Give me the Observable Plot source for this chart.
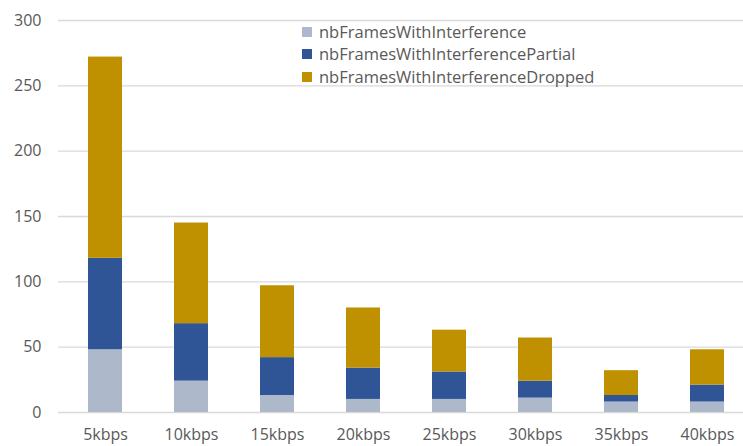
<!DOCTYPE html>
<html>
<head>
<meta charset="utf-8">
<script src="https://cdn.jsdelivr.net/npm/d3@7"></script>
<script src="https://cdn.jsdelivr.net/npm/@observablehq/plot@0.6"></script>
<style>
  html, body { margin: 0; padding: 0; background: #fff; overflow: hidden; }
  #wrap { position: relative; width: 743px; height: 446px; font-family: "Open Sans", "Noto Sans", sans-serif; }
  #legend { position: absolute; left: 302px; top: 20.5px; font-size: 16.5px; color: #595959; line-height: 22.5px; }
  #legend .row { display: flex; align-items: center; white-space: nowrap; }
  #legend .sw { width: 10px; height: 10px; margin-right: 7px; display: inline-block; }
</style>
</head>
<body>
<div id="wrap"></div>
<script>
const categories = ["5kbps", "10kbps", "15kbps", "20kbps", "25kbps", "30kbps", "35kbps", "40kbps"];
const seriesNames = ["nbFramesWithInterference", "nbFramesWithInterferencePartial", "nbFramesWithInterferenceDropped"];
const seriesColors = ["#ADB9CA", "#2F5597", "#BF9000"];
const nbFramesWithInterference = [48, 24, 13, 10, 10, 11, 8, 8];
const nbFramesWithInterferencePartial = [70, 44, 29, 24, 21, 13, 5, 13];
const nbFramesWithInterferenceDropped = [154, 77, 55, 46, 32, 33, 19, 27];
const yTicks = [0, 50, 100, 150, 200, 250, 300];

const seriesValues = [nbFramesWithInterference, nbFramesWithInterferencePartial, nbFramesWithInterferenceDropped];
const rows = [];
seriesNames.forEach((s, si) => {
  categories.forEach((c, ci) => rows.push({category: c, series: s, value: seriesValues[si][ci]}));
});

const chart = Plot.plot({
  width: 743,
  height: 446,
  marginTop: 20,
  marginBottom: 34,
  marginLeft: 58,
  marginRight: 0,
  style: {fontFamily: "'Open Sans', 'Noto Sans', sans-serif", fontSize: "16px", color: "#595959", background: "#fff"},
  x: {domain: categories, range: [59.4, 752.3], paddingInner: 0.61, paddingOuter: 0.305, label: null},
  y: {domain: [0, 300], ticks: yTicks, label: null},
  color: {domain: seriesNames, range: seriesColors},
  marks: [
    Plot.ruleY(yTicks, {stroke: "#D9D9D9", strokeWidth: 1.3}),
    Plot.barY(rows, Plot.stackY({x: "category", y: "value", fill: "series", order: seriesNames})),
    Plot.axisX({tickSize: 0, tickPadding: 16, fontSize: 16, fill: "#595959"}),
    Plot.axisY({ticks: yTicks, tickSize: 0, tickPadding: 17, fontSize: 16, fill: "#595959"})
  ]
});
const wrap = document.getElementById("wrap");
wrap.appendChild(chart);

const legend = document.createElement("div");
legend.id = "legend";
seriesNames.forEach((s, i) => {
  const row = document.createElement("div");
  row.className = "row";
  const sw = document.createElement("span");
  sw.className = "sw";
  sw.style.background = seriesColors[i];
  row.appendChild(sw);
  row.appendChild(document.createTextNode(s));
  legend.appendChild(row);
});
wrap.appendChild(legend);
</script>
</body>
</html>
